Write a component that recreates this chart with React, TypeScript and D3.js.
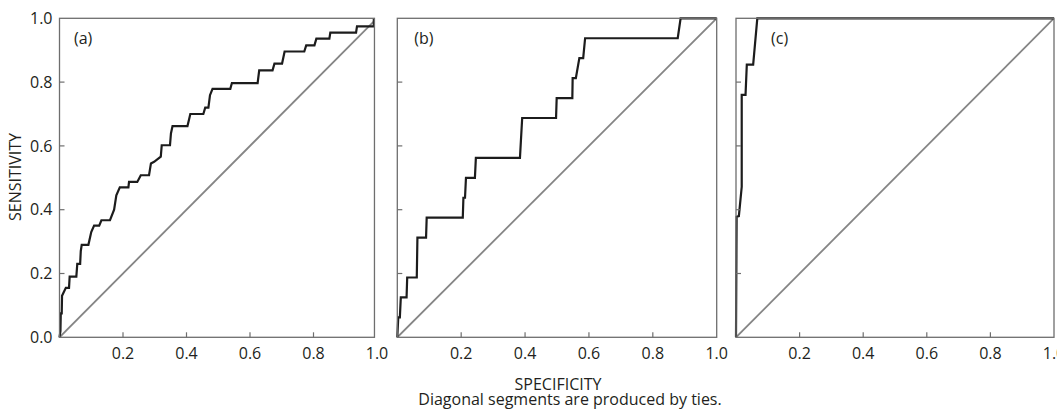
import React from "react";
import * as d3 from "d3";

// ROC curves: x = 1 - specificity, y = sensitivity
const aX = [0, 0.003, 0.004, 0.007, 0.008, 0.014, 0.02, 0.03, 0.032, 0.053, 0.056, 0.065, 0.067, 0.07, 0.091, 0.1, 0.109, 0.125, 0.132, 0.159, 0.172, 0.179, 0.19, 0.217, 0.219, 0.245, 0.256, 0.282, 0.288, 0.298, 0.319, 0.322, 0.348, 0.351, 0.356, 0.403, 0.408, 0.412, 0.453, 0.459, 0.469, 0.474, 0.482, 0.538, 0.543, 0.624, 0.629, 0.671, 0.677, 0.701, 0.709, 0.771, 0.777, 0.803, 0.809, 0.85, 0.853, 0.934, 0.937, 0.99, 0.99];
const aY = [0, 0.02, 0.075, 0.075, 0.13, 0.143, 0.155, 0.155, 0.19, 0.19, 0.23, 0.23, 0.27, 0.29, 0.29, 0.33, 0.35, 0.35, 0.367, 0.367, 0.4, 0.445, 0.47, 0.47, 0.487, 0.487, 0.508, 0.508, 0.545, 0.55, 0.566, 0.602, 0.602, 0.639, 0.662, 0.662, 0.683, 0.7, 0.7, 0.72, 0.72, 0.759, 0.779, 0.779, 0.797, 0.797, 0.837, 0.837, 0.858, 0.858, 0.896, 0.896, 0.915, 0.915, 0.936, 0.936, 0.955, 0.955, 0.975, 0.975, 1.0];

const bX = [0, 0.003, 0.008, 0.011, 0.029, 0.031, 0.061, 0.063, 0.09, 0.092, 0.205, 0.207, 0.212, 0.215, 0.243, 0.246, 0.384, 0.391, 0.497, 0.499, 0.548, 0.549, 0.559, 0.57, 0.582, 0.588, 0.878, 0.887, 1.0];
const bY = [0, 0.0625, 0.0625, 0.125, 0.125, 0.1875, 0.1875, 0.3125, 0.3125, 0.375, 0.375, 0.4375, 0.4375, 0.5, 0.5, 0.5625, 0.5625, 0.6875, 0.6875, 0.75, 0.75, 0.8125, 0.8125, 0.875, 0.875, 0.9375, 0.9375, 1.0, 1.0];

const cX = [0, 0.002, 0.009, 0.018, 0.018, 0.03, 0.034, 0.054, 0.067, 1.0];
const cY = [0, 0.378, 0.38, 0.472, 0.76, 0.76, 0.855, 0.855, 1.0, 1.0];

const tickValues = [0.2, 0.4, 0.6, 0.8];
const xTickLabels = ["0.2", "0.4", "0.6", "0.8", "1.0"];
const yTickLabels = ["0.0", "0.2", "0.4", "0.6", "0.8", "1.0"];
const panelNames = ["(a)", "(b)", "(c)"];

const font = "'Open Sans', sans-serif";
const textColor = "#231f20";
const frameColor = "#6e6e6e";

// panel layout: pixel range of the x scale, box right edge (in data units), label offset
const panels = [
  { name: panelNames[0], xs: aX, ys: aY, range: [59.5, 377], xMax: 0.992, yLabels: true, labelDx: 14.5 },
  { name: panelNames[1], xs: bX, ys: bY, range: [397.3, 716.7], xMax: 1, yLabels: false, labelDx: 17 },
  { name: panelNames[2], xs: cX, ys: cY, range: [736, 1054], xMax: 1, yLabels: false, labelDx: 35 },
];

const y = d3.scaleLinear().domain([0, 1]).range([337.3, 18.3]);

function Panel({ p, i }: { p: any; i: number }) {
  const x = d3.scaleLinear().domain([0, 1]).range(p.range);
  const pts: [number, number][] = p.xs.map((v: number, k: number) => [v, p.ys[k]]);
  const line = d3.line<[number, number]>().x((d) => x(d[0])).y((d) => y(d[1]));
  const left = x(0);
  const right = x(p.xMax);
  const clipId = "clip" + i;
  return (
    <g>
      <defs>
        <clipPath id={clipId}>
          <rect x={left} y={y(1)} width={right - left} height={y(0) - y(1)} />
        </clipPath>
      </defs>
      <path
        clipPath={`url(#${clipId})`}
        d={line([[0, 0], [1, 1]]) || ""}
        stroke="#858585"
        strokeWidth={1.8}
        fill="none"
      />
      <path d={line(pts) || ""} stroke="#1c1c1c" strokeWidth={2.2} fill="none" />
      <rect x={left} y={y(1)} width={right - left} height={y(0) - y(1)} fill="none" stroke={frameColor} strokeWidth={1.3} />
      {tickValues.map((t) => (
        <g key={"t" + t}>
          <line x1={x(t)} x2={x(t)} y1={y(0)} y2={y(0) - 5} stroke={frameColor} strokeWidth={1.2} />
          <line x1={left} x2={left + 5} y1={y(t)} y2={y(t)} stroke={frameColor} strokeWidth={1.2} />
        </g>
      ))}
      {xTickLabels.map((s, k) => (
        <text key={s} x={x((k + 1) * 0.2)} y={359} textAnchor="middle" fontFamily={font} fontSize={16} fill={textColor}>
          {s}
        </text>
      ))}
      {p.yLabels &&
        yTickLabels.map((s, k) => (
          <text key={s} x={52.5} y={y(k * 0.2)} dy="0.36em" textAnchor="end" fontFamily={font} fontSize={16} fill={textColor}>
            {s}
          </text>
        ))}
      <text x={left + p.labelDx} y={43.5} fontFamily={font} fontSize={16} fill={textColor}>
        {p.name}
      </text>
    </g>
  );
}

export default function App() {
  return (
    <svg width={1057} height={413} style={{ position: "absolute", left: 0, top: 0, background: "#fff" }}>
      {panels.map((p, i) => (
        <Panel key={p.name} p={p} i={i} />
      ))}
      <text transform="translate(21,177) rotate(-90)" textAnchor="middle" fontFamily={font} fontSize={16} fill={textColor}>
        SENSITIVITY
      </text>
      <text x={558} y={389.5} textAnchor="middle" fontFamily={font} fontSize={16} fill={textColor}>
        SPECIFICITY
      </text>
      <text x={570} y={405} textAnchor="middle" fontFamily={font} fontSize={16} fill={textColor}>
        Diagonal segments are produced by ties.
      </text>
    </svg>
  );
}
